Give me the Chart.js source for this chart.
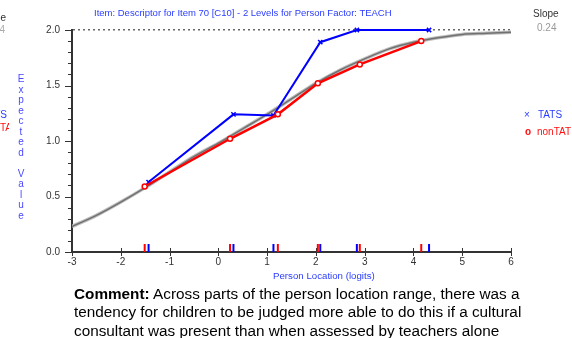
<!DOCTYPE html>
<html lang="en">
<head>
<meta charset="UTF-8">
<title>Item 70 [C10] - TEACH</title>
<style>
  body { margin: 0; background: #fff; font-family: "Liberation Sans", Arial, sans-serif; }
  #wrap { position: relative; width: 572px; height: 338px; overflow: hidden; }
  #wrap div { position: absolute; white-space: nowrap; }
  canvas { position: absolute; left: 0; top: 0; }
  .blue { color: #2a3cff; }
  .red { color: #ff1010; }
</style>
</head>
<body>
<div id="wrap">
  <canvas id="icc" width="572" height="282"></canvas>

  <!-- bits of the neighbouring panel, cut off at the left edge -->
  <div style="right:566px; top:13px; font-size:10px; line-height:10px; color:#333">Slope</div>
  <div style="right:567px; top:25px; font-size:10px; line-height:10px; color:#aaa">0.24</div>
  <div class="blue" style="right:565px; top:110px; font-size:10px; line-height:10px">TATS</div>
  <div class="red" style="left:0; top:123px; width:9px; height:12px; overflow:hidden; font-size:10px; line-height:10px"><span style="position:absolute; right:-3px; top:0">nonTA</span></div>

  <div class="blue" style="left:94px; top:8px; font-size:9.5px; line-height:10px">Item: Descriptor for Item 70 [C10] - 2 Levels for Person Factor: TEACH</div>
  <div class="blue" style="left:16px; top:74px; width:10px; text-align:center; font-size:10px; line-height:10.5px; color:#4a4aff">E<br>x<br>p<br>e<br>c<br>t<br>e<br>d<br>&nbsp;<br>V<br>a<br>l<br>u<br>e</div>
  <div class="blue" style="left:273px; top:271px; font-size:9.7px; line-height:10px">Person Location (logits)</div>

  <div style="left:533px; top:9px; font-size:10px; line-height:10px; color:#333">Slope</div>
  <div style="left:537px; top:23px; font-size:10px; line-height:10px; color:#999">0.24</div>
  <div class="blue" style="left:524px; top:110px; font-size:10px; line-height:10px">×</div>
  <div class="blue" style="left:538px; top:110px; font-size:10px; line-height:10px">TATS</div>
  <div class="red" style="left:525px; top:127px; font-size:10px; line-height:10px; font-weight:bold">o</div>
  <div class="red" style="left:537px; top:127px; font-size:10px; line-height:10px">nonTAT</div>

  <div style="left:74px; top:285px; font-size:15.3px; line-height:18.3px; color:#000"><b>Comment:</b> Across parts of the person location range, there was a<br>tendency for children to be judged more able to do this if a cultural<br>consultant was present than when assessed by teachers alone</div>
</div>

<script src="https://cdn.jsdelivr.net/npm/chart.js"></script>
<script>
  // model curve (expected value)
  const iccLoc = [-3, -2.5, -2, -1.5, -1, -0.5, 0, 0.5, 1, 1.5, 2, 2.5, 3, 3.5, 4, 4.5, 5, 5.5, 6];
  const iccVal = [0.23, 0.33, 0.45, 0.58, 0.72, 0.86, 0.98, 1.11, 1.24, 1.38, 1.52, 1.64, 1.74, 1.83, 1.89, 1.93, 1.96, 1.97, 1.98];

  // observed class means per group
  const tatsLoc = [-1.43, 0.31, 1.13, 2.09, 2.84, 4.32];
  const tatsVal = [0.63, 1.24, 1.23, 1.89, 2.0, 2.0];
  const nonTatLoc = [-1.51, 0.24, 1.22, 2.04, 2.9, 4.16];
  const nonTatVal = [0.59, 1.02, 1.24, 1.52, 1.69, 1.90];

  const xTicks = { min: -3, max: 6, step: 1 };
  const yTicks = { min: 0, max: 2, step: 0.1 };

  const pairs = (xs, ys) => xs.map((v, i) => ({ x: v, y: ys[i] }));
  const isMajor = v => Math.abs(v * 2 - Math.round(v * 2)) < 1e-6;

  // tick marks (long/short) and the group-mean markers along the x axis
  const axisMarks = {
    id: 'axisMarks',
    afterDraw(chart) {
      const { ctx, scales: { x, y } } = chart;
      ctx.save();
      ctx.strokeStyle = '#333';
      ctx.lineWidth = 1;
      y.ticks.forEach(t => {
        const py = Math.round(y.getPixelForValue(t.value)) + 0.5;
        ctx.beginPath();
        ctx.moveTo(y.right - (isMajor(t.value) ? 7 : 4), py);
        ctx.lineTo(y.right, py);
        ctx.stroke();
      });
      x.ticks.forEach(t => {
        const px = Math.round(x.getPixelForValue(t.value)) + 0.5;
        ctx.beginPath();
        ctx.moveTo(px, x.top - 4);
        ctx.lineTo(px, x.top + 4);
        ctx.stroke();
      });
      ctx.lineWidth = 2;
      [[nonTatLoc, '#ff0000'], [tatsLoc, '#0000ff']].forEach(([locs, col]) => {
        ctx.strokeStyle = col;
        locs.forEach(v => {
          const px = x.getPixelForValue(v);
          ctx.beginPath();
          ctx.moveTo(px, x.top - 8);
          ctx.lineTo(px, x.top);
          ctx.stroke();
        });
      });
      ctx.restore();
    }
  };

  new Chart(document.getElementById('icc'), {
    type: 'line',
    data: {
      datasets: [
        {
          label: 'nonTAT',
          data: pairs(nonTatLoc, nonTatVal),
          borderColor: '#ff0000',
          borderWidth: 2.5,
          pointStyle: 'circle',
          pointRadius: 2.5,
          pointBorderWidth: 1.5,
          pointBackgroundColor: '#fff',
          clip: false
        },
        {
          label: 'TATS',
          data: pairs(tatsLoc, tatsVal),
          borderColor: '#0000ff',
          borderWidth: 2,
          pointStyle: 'crossRot',
          pointRadius: 3,
          pointBorderWidth: 1.5,
          clip: false
        },
        {
          label: 'model',
          data: pairs(iccLoc, iccVal),
          borderColor: '#707070',
          borderWidth: 1.5,
          pointRadius: 0,
          cubicInterpolationMode: 'monotone'
        },
        {
          label: 'model shadow',
          data: pairs(iccLoc, iccVal),
          borderColor: '#bdbdbd',
          borderWidth: 3.5,
          pointRadius: 0,
          cubicInterpolationMode: 'monotone'
        }
      ]
    },
    options: {
      responsive: false,
      animation: false,
      devicePixelRatio: 1,
      layout: { padding: { top: 30, right: 61, left: 0, bottom: 0 } },
      plugins: { legend: { display: false }, tooltip: { enabled: false } },
      scales: {
        x: {
          type: 'linear',
          min: xTicks.min,
          max: xTicks.max,
          afterFit: s => { s.height = 30; },
          grid: { display: false, drawTicks: false },
          border: { color: '#333', width: 2 },
          ticks: {
            stepSize: xTicks.step,
            padding: 4,
            color: '#333',
            font: { family: 'Liberation Sans', size: 10 }
          }
        },
        y: {
          type: 'linear',
          min: yTicks.min,
          max: yTicks.max,
          afterFit: s => { s.width = 72; },
          grid: {
            drawTicks: false,
            lineWidth: 1.5,
            color: c => (c.tick && Math.abs(c.tick.value - 2) < 1e-6) ? '#666' : 'rgba(0,0,0,0)'
          },
          border: { color: '#333', width: 2, dash: [2, 3] },
          ticks: {
            stepSize: yTicks.step,
            autoSkip: false,
            padding: 12,
            color: '#333',
            font: { family: 'Liberation Sans', size: 10 },
            callback: v => isMajor(v) ? v.toFixed(1) : ''
          }
        }
      }
    },
    plugins: [axisMarks]
  });
</script>
</body>
</html>
